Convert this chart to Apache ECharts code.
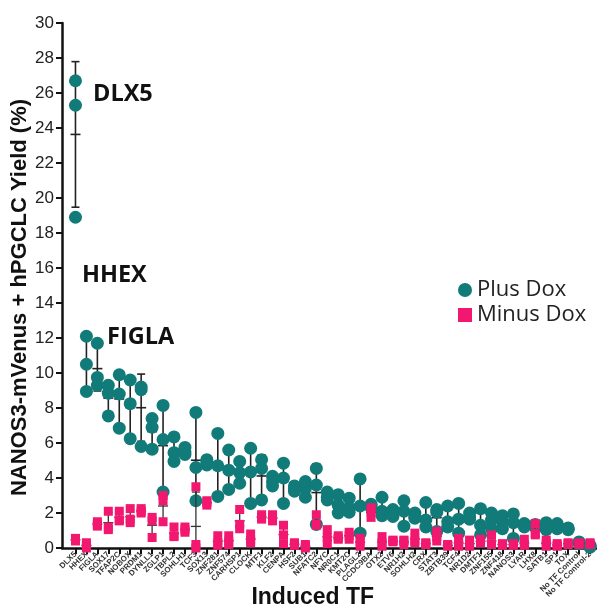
<!DOCTYPE html>
<html><head><meta charset="utf-8">
<script src="https://cdn.jsdelivr.net/npm/echarts@6/dist/echarts.min.js"></script>
<style>html,body{margin:0;padding:0;background:#fff}#c{width:597px;height:611px}</style>
</head><body><div id="c"></div>
<script>
const categories = ["DLX5","HHEX","FIGLA","SOX17","TFAP2C","NOBOX","PRDM1","DYNLL1","ZGLP1","TBPL2","SOHLH1","TCF3","SOX13","ZNF281","ZNF574","CARHSP1","CLOCK","MTF1","KLF2","CENPA","HSF2","SUB1","NFATC2","NFYC","NR0C1","KMT2C","PLAGL2","CCDC9BA","OTX2","ETV6","NR1H2","SOHLH2","CRX","STAT3","ZBTB39","TCF4","NR1D2","DMTF1","ZNF155","ZNF418","NANOS3","LYAR","LHX8","SATB1","SP1","TOX","No TF Control","No TF Control-2"];

const plusDox = [
 [26.7,25.3,18.9],[12.1,10.5,8.95],[11.7,9.75,9.3],[9.3,8.85,7.55],[9.9,8.8,6.85],
 [9.6,8.25,6.25],[9.2,9.05,5.8],[7.4,6.9,5.65],[8.15,6.2,3.2],[6.35,5.45,4.95],
 [5.75,5.5,5.35],[7.75,4.6,2.7],[5.05,4.85,4.75],[6.55,4.7,2.95],[5.6,4.45,3.35],
 [4.95,4.3,3.7],[5.7,4.35,2.55],[5.05,4.55,2.75],[4.1,3.8,3.55],[4.85,4.0,2.55],
 [3.55,3.4,3.25],[3.8,3.4,2.9],[4.55,3.6,1.35],[3.2,2.9,2.75],[3.05,2.45,2.0],
 [2.85,2.3,2.05],[3.95,2.4,0.85],[2.5,2.4,2.3],[2.9,2.1,1.85],[2.2,1.95,1.8],
 [2.7,2.1,1.25],[2.0,1.8,1.7],[2.6,1.6,1.2],[2.2,2.05,0.95],[2.4,1.5,1.2],
 [2.55,1.65,0.85],[2.0,1.8,1.65],[2.25,1.3,0.75],[2.0,1.6,1.1],[1.85,1.5,1.1],
 [1.95,1.45,0.55],[1.4,1.3,1.2],[1.35,1.25,1.2],[1.45,1.25,1.05],[1.4,1.3,1.1],
 [1.15,1.1,1.05],[0.35,0.3,0.25],[0.15,0.1,0.05]
];
const minusDox = [
 [0.55,0.45,0.4],[0.3,0.15,0.0],[1.5,1.35,1.25],[2.1,1.2,1.05],[2.1,1.6,1.55],
 [2.25,1.65,1.45],[2.25,2.1,2.0],[1.75,1.55,0.6],[3.0,2.7,1.5],[1.2,0.7,0.65],
 [1.2,1.05,0.9],[3.5,0.2,0.0],[2.7,2.6,2.45],[0.7,0.3,0.15],[0.7,0.35,0.2],
 [2.2,1.35,1.1],[0.8,0.45,0.3],[1.9,1.75,1.65],[1.9,1.7,1.55],[1.3,0.75,0.25],
 [0.3,0.2,0.15],[0.2,0.1,0.0],[1.9,1.35,1.3],[1.05,0.6,0.25],[0.7,0.55,0.5],
 [0.9,0.7,0.5],[0.55,0.35,0.1],[2.3,2.05,1.75],[0.65,0.3,0.1],[0.45,0.4,0.35],
 [0.45,0.4,0.2],[0.85,0.4,0.3],[0.3,0.25,0.2],[0.95,0.65,0.4],[0.2,0.15,0.1],
 [0.55,0.2,0.1],[0.45,0.2,0.1],[0.5,0.35,0.3],[0.75,0.25,0.2],[0.25,0.2,0.15],
 [0.25,0.2,0.15],[0.5,0.2,0.15],[1.4,0.85,0.75],[0.45,0.25,0.1],[0.25,0.15,0.1],
 [0.3,0.25,0.2],[0.3,0.25,0.2],[0.3,0.25,0.2]
];
const yTicks = [0,2,4,6,8,10,12,14,16,18,20,22,24,26,28,30];

const TEAL = '#117b79', PINK = '#f2186f';

function pts(reps){ const out=[]; reps.forEach((r,i)=>r.forEach(v=>out.push([i,v]))); return out; }
function stats(reps){ return reps.map((r,i)=>{ const m=r.reduce((a,b)=>a+b,0)/r.length;
  const sd=Math.sqrt(r.reduce((a,b)=>a+(b-m)*(b-m),0)/(r.length-1)); return [i,m,sd]; }); }

function errRender(color, lw){
  return function(params, api){
    const x=api.value(0), m=api.value(1), sd=api.value(2);
    const lo=Math.max(0,m-sd), hi=m+sd;
    const pH=api.coord([x,hi]), pL=api.coord([x,lo]), pM=api.coord([x,m]);
    const st={stroke:color,lineWidth:lw};
    const ch=[
      {type:'line',shape:{x1:pH[0],y1:pH[1],x2:pL[0],y2:pL[1]},style:st},
      {type:'line',shape:{x1:pH[0]-4,y1:pH[1],x2:pH[0]+4,y2:pH[1]},style:st},
      {type:'line',shape:{x1:pM[0]-5,y1:pM[1],x2:pM[0]+5,y2:pM[1]},style:st}
    ];
    if(m-sd>=0) ch.push({type:'line',shape:{x1:pL[0]-4,y1:pL[1],x2:pL[0]+4,y2:pL[1]},style:st});
    return {type:'group',children:ch};
  };
}

const chart = echarts.init(document.getElementById('c'));
const option = {
  animation:false,
  grid:[{left:70,right:1.5,top:23,bottom:63,containLabel:false,outerBoundsMode:'none'},
        {left:62,right:0,top:23,bottom:63,containLabel:false,outerBoundsMode:'none'}],
  legend:{orient:'vertical',left:453,top:274,itemGap:3,itemWidth:14,itemHeight:14,
    textStyle:{fontFamily:'Open Sans',fontSize:22,color:'#222'},
    data:[{name:'Plus Dox',icon:'circle'},{name:'Minus Dox',icon:'rect'}]},
  xAxis:[{type:'category',data:categories,gridIndex:0,boundaryGap:true,
    axisLine:{show:false},
    axisTick:{show:true,alignWithLabel:true,length:6,lineStyle:{color:'#111',width:2}},
    axisLabel:{interval:0,rotate:45,fontSize:8,fontWeight:'bold',color:'#333',margin:5,fontFamily:'Liberation Sans'},
    name:'Induced TF',nameLocation:'middle',nameGap:38,nameMoveOverlap:false,
    nameTextStyle:{fontFamily:'Liberation Sans',fontWeight:'bold',fontSize:23,color:'#111',padding:[0,40,0,0]}},
   {type:'value',gridIndex:1,min:0,max:1,axisLine:{show:true,lineStyle:{color:'#111',width:2.5}},
    axisTick:{show:false},axisLabel:{show:false},splitLine:{show:false}}],
  yAxis:[{type:'value',gridIndex:0,min:0,max:30,interval:2,offset:8,
    axisLine:{show:true,lineStyle:{color:'#111',width:2.5}},
    axisTick:{show:true,length:6,lineStyle:{color:'#111',width:2}},
    axisLabel:{fontFamily:'Liberation Sans',fontSize:17,color:'#222',margin:8,
      formatter:v=>yTicks.includes(v)?String(v):''},
    splitLine:{show:false},
    name:'NANOS3-mVenus + hPGCLC Yield (%)',nameLocation:'middle',nameGap:31,nameMoveOverlap:false,
    nameTextStyle:{fontFamily:'Liberation Sans',fontWeight:'bold',fontSize:22,color:'#111',padding:[0,24,0,0]}},
   {type:'value',gridIndex:1,show:false,min:0,max:1}],
  series:[
    {type:'custom',name:'errPlus',xAxisIndex:0,yAxisIndex:0,renderItem:errRender('#222',1.6),data:stats(plusDox),z:1,silent:true},
    {type:'scatter',name:'Plus Dox',xAxisIndex:0,yAxisIndex:0,symbol:'circle',symbolSize:13,
      itemStyle:{color:TEAL,opacity:1},data:pts(plusDox),z:2},
    {type:'custom',name:'errMinus',xAxisIndex:0,yAxisIndex:0,renderItem:errRender('#333',1.3),data:stats(minusDox),z:3,silent:true},
    {type:'scatter',name:'Minus Dox',xAxisIndex:0,yAxisIndex:0,symbol:'rect',symbolSize:9,
      itemStyle:{color:PINK,opacity:1},data:pts(minusDox),z:4}
  ],
  graphic:[
    {type:'text',left:93,top:82,style:{text:'DLX5',font:'bold 23.5px "Open Sans"',fill:'#111'}},
    {type:'text',left:82,top:263,style:{text:'HHEX',font:'bold 23.5px "Open Sans"',fill:'#111'}},
    {type:'text',left:107,top:325,style:{text:'FIGLA',font:'bold 23.5px "Open Sans"',fill:'#111'}}
  ]
};
chart.setOption(option);
</script></body></html>
